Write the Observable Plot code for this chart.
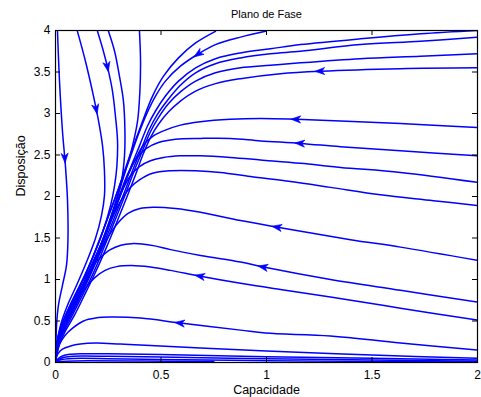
<!DOCTYPE html>
<html><head><meta charset="utf-8">
<script src="https://cdn.jsdelivr.net/npm/d3@7"></script>
<script src="https://cdn.jsdelivr.net/npm/@observablehq/plot@0.6"></script>
<style>body{margin:0;background:#fff}svg{display:block}</style>
</head><body><div id="chart"></div>
<script>
const title = "Plano de Fase";
const xLabel = "Capacidade";
const yLabel = "Disposição";
const xTicks = [0, 0.5, 1, 1.5, 2];
const yTicks = [0, 0.5, 1, 1.5, 2, 2.5, 3, 3.5, 4];

// trajectories, [capacidade, disposição]
const trajA = [[0.0095,3.99],[0.019,3.39],[0.033,2.79],[0.047,2.37],[0.057,1.95],[0.059,1.47],[0.052,1.17],[0.033,0.93],[0.014,0.69],[0.005,0.45],[0.002,0.21],[0,0]];
const trajB = [[0.104,3.99],[0.142,3.63],[0.180,3.21],[0.204,2.91],[0.223,2.61],[0.232,2.31],[0.232,2.01],[0.218,1.77],[0.190,1.50],[0.147,1.21],[0.100,0.93],[0.057,0.69],[0.024,0.45],[0.0095,0.25],[0.002,0.09],[0,0]];
const trajC = [[0.199,3.99],[0.227,3.75],[0.251,3.51],[0.270,3.27],[0.284,2.97],[0.294,2.67],[0.291,2.37],[0.280,2.13],[0.261,1.89],[0.223,1.57],[0.175,1.26],[0.123,0.97],[0.076,0.73],[0.038,0.51],[0.014,0.32],[0.005,0.17],[0,0]];
const trajD = [[0.251,3.99],[0.280,3.75],[0.303,3.45],[0.322,3.15],[0.329,2.79],[0.327,2.49],[0.313,2.19],[0.289,1.95],[0.251,1.65],[0.204,1.35],[0.152,1.05],[0.100,0.79],[0.052,0.55],[0.019,0.35],[0.005,0.19],[0,0]];
const trajE = [[0.398,3.99],[0.403,3.63],[0.400,3.27],[0.389,2.91],[0.365,2.61],[0.332,2.31],[0.294,2.01],[0.256,1.71],[0.213,1.41],[0.166,1.11],[0.114,0.85],[0.062,0.60],[0.024,0.39],[0.007,0.21],[0,0]];
const trajF = [[0.758,3.99],[0.664,3.85],[0.583,3.67],[0.512,3.45],[0.460,3.21],[0.422,2.97],[0.384,2.71],[0.341,2.41],[0.299,2.10],[0.256,1.80],[0.209,1.47],[0.161,1.17],[0.109,0.87],[0.062,0.63],[0.024,0.41],[0.007,0.23],[0,0]];
const trajG = [[0.995,3.99],[0.877,3.92],[0.758,3.83],[0.678,3.72],[0.592,3.57],[0.521,3.39],[0.474,3.21],[0.431,2.99],[0.393,2.75],[0.351,2.45],[0.308,2.16],[0.261,1.83],[0.213,1.51],[0.166,1.20],[0.114,0.90],[0.066,0.66],[0.028,0.44],[0.0095,0.26],[0,0]];
const trajH = [[2.0,4.0],[1.730,3.96],[1.445,3.90],[1.161,3.83],[1.019,3.78],[0.877,3.73],[0.758,3.66],[0.664,3.55],[0.583,3.39],[0.521,3.21],[0.474,3.03],[0.436,2.85],[0.398,2.61],[0.355,2.34],[0.313,2.05],[0.270,1.76],[0.223,1.46],[0.175,1.16],[0.123,0.87],[0.076,0.63],[0.038,0.43],[0.014,0.26],[0,0]];
const trajI = [[2.0,3.92],[1.730,3.87],[1.445,3.83],[1.161,3.75],[1.019,3.72],[0.877,3.67],[0.758,3.60],[0.664,3.49],[0.592,3.34],[0.531,3.16],[0.483,2.99],[0.445,2.81],[0.408,2.58],[0.365,2.31],[0.322,2.02],[0.275,1.72],[0.227,1.42],[0.180,1.14],[0.128,0.85],[0.081,0.61],[0.038,0.41],[0.014,0.246],[0,0]];
const trajJ = [[2.0,3.72],[1.730,3.69],[1.445,3.66],[1.161,3.61],[1.019,3.58],[0.877,3.55],[0.758,3.49],[0.664,3.39],[0.592,3.26],[0.536,3.12],[0.488,2.95],[0.450,2.78],[0.412,2.55],[0.370,2.29],[0.327,2.00],[0.280,1.70],[0.232,1.40],[0.185,1.11],[0.133,0.835],[0.085,0.595],[0.043,0.39],[0.014,0.234],[0,0]];
const trajK = [[2.0,3.55],[1.635,3.54],[1.256,3.51],[1.066,3.48],[0.877,3.42],[0.758,3.36],[0.664,3.27],[0.592,3.15],[0.536,3.02],[0.488,2.87],[0.450,2.71],[0.417,2.52],[0.379,2.26],[0.336,1.98],[0.289,1.68],[0.242,1.39],[0.190,1.09],[0.137,0.81],[0.090,0.57],[0.047,0.38],[0.019,0.22],[0,0]];
const trajL = [[2.0,2.83],[1.635,2.88],[1.351,2.91],[1.142,2.93],[0.972,2.94],[0.829,2.93],[0.687,2.90],[0.592,2.86],[0.521,2.80],[0.464,2.73],[0.417,2.62],[0.379,2.45],[0.341,2.24],[0.303,1.99],[0.261,1.69],[0.213,1.37],[0.166,1.09],[0.118,0.82],[0.076,0.595],[0.038,0.39],[0.014,0.22],[0,0]];
const trajM = [[2.0,2.49],[1.635,2.55],[1.351,2.60],[1.161,2.64],[0.972,2.67],[0.829,2.70],[0.687,2.70],[0.569,2.69],[0.488,2.65],[0.431,2.58],[0.384,2.46],[0.346,2.29],[0.308,2.05],[0.270,1.78],[0.227,1.48],[0.180,1.18],[0.133,0.91],[0.090,0.67],[0.047,0.45],[0.019,0.27],[0,0]];
const trajN = [[2.0,2.17],[1.635,2.29],[1.351,2.35],[1.161,2.40],[0.972,2.44],[0.829,2.47],[0.687,2.49],[0.592,2.49],[0.512,2.47],[0.450,2.43],[0.398,2.36],[0.355,2.25],[0.318,2.08],[0.280,1.84],[0.237,1.55],[0.190,1.24],[0.142,0.95],[0.095,0.69],[0.052,0.475],[0.019,0.28],[0,0]];
const trajO = [[2.0,1.89],[1.791,1.95],[1.540,2.02],[1.303,2.11],[1.114,2.18],[0.924,2.24],[0.782,2.29],[0.664,2.31],[0.545,2.31],[0.460,2.28],[0.398,2.20],[0.351,2.10],[0.308,1.94],[0.265,1.72],[0.223,1.47],[0.175,1.20],[0.128,0.92],[0.081,0.67],[0.043,0.46],[0.014,0.28],[0,0]];
const trajP = [[2.0,1.23],[1.635,1.39],[1.398,1.48],[1.052,1.63],[0.877,1.71],[0.687,1.81],[0.569,1.855],[0.464,1.87],[0.40,1.855],[0.346,1.80],[0.299,1.69],[0.251,1.52],[0.209,1.32],[0.166,1.11],[0.123,0.88],[0.081,0.67],[0.043,0.475],[0.014,0.31],[0,0]];
const trajQ1 = [[2.0,0.727],[1.635,0.87],[1.303,1.00],[0.986,1.15],[0.877,1.21],[0.687,1.29],[0.545,1.36],[0.47,1.405],[0.41,1.428],[0.36,1.432],[0.31,1.412],[0.26,1.36],[0.215,1.27],[0.175,1.16],[0.14,1.03],[0.105,0.87],[0.071,0.69],[0.038,0.51],[0.014,0.34],[0,0]];
const trajQ2 = [[2.0,0.51],[1.635,0.655],[1.303,0.79],[1.066,0.88],[0.877,0.955],[0.687,1.04],[0.545,1.11],[0.450,1.15],[0.36,1.168],[0.29,1.155],[0.235,1.11],[0.185,1.02],[0.14,0.89],[0.098,0.73],[0.06,0.56],[0.028,0.39],[0.008,0.22],[0,0]];
const trajR = [[2.0,0.15],[1.635,0.234],[1.303,0.32],[0.995,0.354],[0.877,0.39],[0.592,0.475],[0.403,0.535],[0.261,0.547],[0.190,0.535],[0.133,0.50],[0.081,0.414],[0.043,0.32],[0.019,0.22],[0.007,0.126],[0,0]];
const trajS = [[2.0,0.05],[1.5,0.09],[1.0,0.14],[0.687,0.174],[0.45,0.204],[0.308,0.222],[0.19,0.234],[0.118,0.222],[0.071,0.198],[0.033,0.162],[0.014,0.114],[0.002,0.054],[0,0]];
const trajT = [[2.0,0.03],[1.5,0.05],[1.0,0.07],[0.5,0.095],[0.25,0.105],[0.12,0.105],[0.06,0.095],[0.03,0.075],[0.012,0.045],[0.003,0.015],[0,0]];
const trajU = [[2.0,0.015],[1.5,0.03],[1.0,0.045],[0.5,0.065],[0.25,0.075],[0.12,0.078],[0.06,0.07],[0.03,0.055],[0.012,0.033],[0.003,0.01],[0,0]];
const trajV = [[2.0,0.006],[1.5,0.013],[1.0,0.022],[0.5,0.035],[0.25,0.045],[0.12,0.05],[0.06,0.045],[0.03,0.035],[0.012,0.02],[0,0]];
const trajW = [[0.75,0.012],[0.4,0.018],[0.15,0.02],[0.05,0.015],[0.015,0.008],[0,0]];

// arrowheads: position and local direction of motion
const arrowX  = [0.044, 0.192, 0.245, 0.678, 1.256, 1.142, 1.161, 1.052, 0.986, 0.687, 0.592];
const arrowY  = [2.47, 3.06, 3.57, 3.72, 3.51, 2.93, 2.64, 1.63, 1.15, 1.04, 0.475];
const arrowDX = [0.02, 0.08, 0.08, -0.086, -1, -1, -1, -1, -1, -1, -1];
const arrowDY = [-1, -1, -1, -0.15, -0.08, 0.08, 0.16, 0.45, 0.5, 0.48, 0.3];

const W = 481, H = 397, mL = 55, mR = 4, mT = 30, mB = 35;
const innerW = W - mL - mR, innerH = H - mT - mB, tickLen = 5;
const blue = "#0000ff";

const curves = {A: trajA, B: trajB, C: trajC, D: trajD, E: trajE, F: trajF, G: trajG, H: trajH, I: trajI, J: trajJ, K: trajK, L: trajL, M: trajM, N: trajN, O: trajO, P: trajP, Q1: trajQ1, Q2: trajQ2, R: trajR, S: trajS, T: trajT, U: trajU, V: trajV, W: trajW};
const lineData = Object.entries(curves).flatMap(([id, pts]) => pts.map(([x, y]) => ({id, x, y})));

const sx = Plot.scale({x: {domain: [0, 2], range: [mL, W - mR]}});
const sy = Plot.scale({y: {domain: [0, 4], range: [H - mB, mT]}});
const arrows = arrowX.map((x, i) => {
  const y = arrowY[i], e = 0.01;
  const n = Math.hypot(arrowDX[i], arrowDY[i]);
  const ddx = sx.apply(x + e * arrowDX[i] / n) - sx.apply(x);
  const ddy = sy.apply(y + e * arrowDY[i] / n) - sy.apply(y);
  return {x, y, angle: Math.atan2(ddx, -ddy) * 180 / Math.PI};
});

const arrowHead = {
  draw(ctx, size) {
    const r = Math.sqrt(size / Math.PI);
    const L = r * 1.25, w = r * 0.8;
    ctx.moveTo(0, -L);
    ctx.lineTo(w, L * 0.75);
    ctx.lineTo(0, L * 0.25);
    ctx.lineTo(-w, L * 0.75);
    ctx.closePath();
  }
};

const chart = Plot.plot({
  width: W, height: H,
  marginLeft: mL, marginRight: mR, marginTop: mT, marginBottom: mB,
  style: {fontFamily: "'Liberation Sans', Arial, sans-serif", fontSize: "12px", background: "#fff", color: "#000"},
  x: {domain: [0, 2]},
  y: {domain: [0, 4]},
  marks: [
    Plot.line(lineData, {x: "x", y: "y", z: "id", stroke: blue, strokeWidth: 1.5, curve: "catmull-rom", clip: true}),
    Plot.dot(arrows, {x: "x", y: "y", rotate: "angle", symbol: arrowHead, r: 4.5, fill: blue, stroke: blue, strokeWidth: 0.6}),
    // inward tick marks on all four sides
    Plot.tickX(xTicks, {x: d => d, stroke: "#000", strokeWidth: 1, insetTop: innerH - tickLen}),
    Plot.tickX(xTicks, {x: d => d, stroke: "#000", strokeWidth: 1, insetBottom: innerH - tickLen}),
    Plot.tickY(yTicks, {y: d => d, stroke: "#000", strokeWidth: 1, insetRight: innerW - tickLen}),
    Plot.tickY(yTicks, {y: d => d, stroke: "#000", strokeWidth: 1, insetLeft: innerW - tickLen}),
    Plot.frame({stroke: "#000", strokeWidth: 1.2}),
    // tick labels
    Plot.axisX(xTicks, {anchor: "bottom", tickSize: 0, tickPadding: 8, label: null, tickFormat: d => String(d), fontSize: 12}),
    Plot.axisY(yTicks, {anchor: "left", tickSize: 0, tickPadding: 5, label: null, tickFormat: d => String(d), fontSize: 12}),
    Plot.text([title], {text: d => d, frameAnchor: "top", lineAnchor: "middle", dy: -16, fontSize: 11}),
    Plot.text([xLabel], {text: d => d, frameAnchor: "bottom", lineAnchor: "middle", dy: 27, fontSize: 12.5}),
    Plot.text([yLabel], {text: d => d, frameAnchor: "left", lineAnchor: "middle", dx: -35, rotate: -90, fontSize: 12.5})
  ]
});
document.getElementById("chart").appendChild(chart);
</script>
</body></html>
